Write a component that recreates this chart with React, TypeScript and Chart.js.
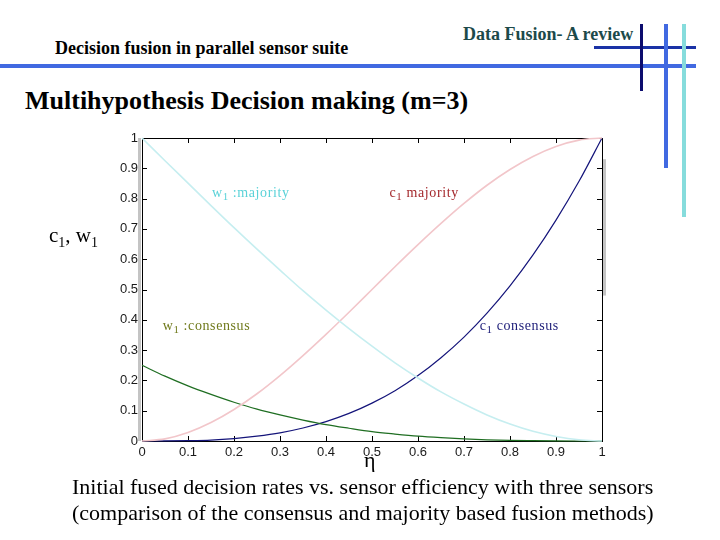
import React, { useEffect, useRef } from "react";
import { Chart, registerables } from "chart.js";

Chart.register(...registerables);

// ---- data ----
const eta = [0, 0.05, 0.1, 0.15, 0.2, 0.25, 0.3, 0.35, 0.4, 0.45, 0.5, 0.55, 0.6, 0.65, 0.7, 0.75, 0.8, 0.85, 0.9, 0.95, 1];
const c1Majority = [0, 0.007, 0.028, 0.061, 0.104, 0.156, 0.216, 0.282, 0.352, 0.425, 0.5, 0.575, 0.648, 0.718, 0.784, 0.844, 0.896, 0.939, 0.972, 0.993, 1];
const c1Consensus = [0, 0.0001, 0.001, 0.003, 0.008, 0.016, 0.027, 0.043, 0.064, 0.091, 0.125, 0.166, 0.216, 0.275, 0.343, 0.422, 0.512, 0.614, 0.729, 0.857, 1];
const w1Majority = [1, 0.925, 0.851, 0.777, 0.704, 0.633, 0.564, 0.496, 0.432, 0.371, 0.313, 0.258, 0.208, 0.162, 0.122, 0.086, 0.056, 0.032, 0.015, 0.004, 0];
const w1Consensus = [0.25, 0.214, 0.182, 0.154, 0.128, 0.105, 0.086, 0.069, 0.054, 0.042, 0.031, 0.023, 0.016, 0.011, 0.007, 0.004, 0.002, 0.001, 0.0003, 0, 0];
const xTickLabels = ["0", "0.1", "0.2", "0.3", "0.4", "0.5", "0.6", "0.7", "0.8", "0.9", "1"];
const yTickLabels = ["0", "0.1", "0.2", "0.3", "0.4", "0.5", "0.6", "0.7", "0.8", "0.9", "1"];

// curve annotations (text, anchored in data units)
const annotations = [
  { main: "w", sub: "1", rest: " :majority", x: 0.152, y: 0.822, color: "#5ad2d8" },
  { main: "c", sub: "1", rest: " majority", x: 0.538, y: 0.822, color: "#a4282c" },
  { main: "w", sub: "1", rest: " :consensus", x: 0.045, y: 0.383, color: "#707a1c" },
  { main: "c", sub: "1", rest: " consensus", x: 0.734, y: 0.383, color: "#1c1c78" },
];

const toXY = (ys: number[]) => eta.map((x, i) => ({ x, y: ys[i] }));

const framePlugin = {
  id: "frame",
  beforeDatasetsDraw(chart: any) {
    const { ctx, chartArea: a, scales } = chart;
    const xs = scales.x;
    const ys = scales.y;
    ctx.save();
    // grey shadow strips beside the frame
    ctx.fillStyle = "#c4c4c4";
    ctx.fillRect(a.left - 4, a.top, 3, a.bottom - a.top);
    const s1 = ys.getPixelForValue(0.93);
    const s2 = ys.getPixelForValue(0.48);
    ctx.fillRect(a.right + 1, s1, 3, s2 - s1);
    // frame
    ctx.strokeStyle = "#000";
    ctx.lineWidth = 1;
    ctx.strokeRect(Math.round(a.left) + 0.5, Math.round(a.top) + 0.5, Math.round(a.right - a.left), Math.round(a.bottom - a.top));
    // inward tick marks on all four sides
    ctx.beginPath();
    xs.ticks.forEach((t: any) => {
      const px = Math.round(xs.getPixelForValue(t.value)) + 0.5;
      ctx.moveTo(px, a.bottom);
      ctx.lineTo(px, a.bottom - 5);
      ctx.moveTo(px, a.top);
      ctx.lineTo(px, a.top + 5);
    });
    ys.ticks.forEach((t: any) => {
      const py = Math.round(ys.getPixelForValue(t.value)) + 0.5;
      ctx.moveTo(a.left, py);
      ctx.lineTo(a.left + 5, py);
      ctx.moveTo(a.right, py);
      ctx.lineTo(a.right - 5, py);
    });
    ctx.stroke();
    ctx.restore();
  },
  afterDatasetsDraw(chart: any) {
    const { ctx, scales } = chart;
    ctx.save();
    ctx.textBaseline = "alphabetic";
    ctx.letterSpacing = "0.6px";
    annotations.forEach((an) => {
      let px = scales.x.getPixelForValue(an.x);
      const base = scales.y.getPixelForValue(an.y) + 5;
      ctx.fillStyle = an.color;
      ctx.font = "14px 'Liberation Serif'";
      ctx.fillText(an.main, px, base);
      px += ctx.measureText(an.main).width;
      ctx.font = "11px 'Liberation Serif'";
      ctx.fillText(an.sub, px, base + 3);
      px += ctx.measureText(an.sub).width;
      ctx.font = "14px 'Liberation Serif'";
      ctx.fillText(an.rest, px, base);
    });
    ctx.restore();
  },
};

function LineChart() {
  const ref = useRef<HTMLCanvasElement | null>(null);
  useEffect(() => {
    if (!ref.current) return;
    const tickFont = { family: "'Liberation Sans', Arial, sans-serif", size: 13 };
    const chart = new Chart(ref.current, {
      type: "line",
      data: {
        datasets: [
          { label: "w1 majority", data: toXY(w1Majority), borderColor: "#c6eef0", borderWidth: 1.6 },
          { label: "c1 majority", data: toXY(c1Majority), borderColor: "#f2c6ca", borderWidth: 1.6 },
          { label: "w1 consensus", data: toXY(w1Consensus), borderColor: "#1f6e22", borderWidth: 1.2 },
          { label: "c1 consensus", data: toXY(c1Consensus), borderColor: "#14147a", borderWidth: 1.2 },
        ].map((d) => ({ ...d, pointRadius: 0, cubicInterpolationMode: "monotone" as const, fill: false, clip: 4 })),
      },
      options: {
        responsive: false,
        animation: false,
        devicePixelRatio: 1,
        layout: { padding: { left: 102, right: 118, top: 138, bottom: 69 } },
        plugins: { legend: { display: false }, tooltip: { enabled: false }, title: { display: false } },
        scales: {
          x: {
            type: "linear",
            min: 0,
            max: 1,
            grid: { display: false, drawTicks: false },
            border: { display: false },
            ticks: {
              stepSize: 0.1,
              autoSkip: false,
              maxRotation: 0,
              padding: 4,
              color: "#1a1a1a",
              font: tickFont,
              callback: (_v: any, i: number) => xTickLabels[i],
            },
            afterFit: (s: any) => {
              s.height = 30;
            },
          },
          y: {
            type: "linear",
            min: 0,
            max: 1,
            grid: { display: false, drawTicks: false },
            border: { display: false },
            ticks: {
              stepSize: 0.1,
              autoSkip: false,
              padding: 4,
              color: "#1a1a1a",
              font: tickFont,
              callback: (_v: any, i: number) => yTickLabels[i],
            },
            afterFit: (s: any) => {
              s.width = 40;
            },
          },
        },
      },
      plugins: [framePlugin],
    });
    return () => chart.destroy();
  }, []);
  return <canvas ref={ref} width={720} height={540} style={{ position: "absolute", left: 0, top: 0 }} />;
}

const serif = "'Liberation Serif', 'Times New Roman', serif";

function Bar(props: { l: number; t: number; w: number; h: number; c: string }) {
  return <div style={{ position: "absolute", left: props.l, top: props.t, width: props.w, height: props.h, background: props.c }} />;
}

export default function App() {
  const txt = (extra: React.CSSProperties): React.CSSProperties => ({
    position: "absolute",
    fontFamily: serif,
    lineHeight: 1,
    whiteSpace: "nowrap",
    color: "#000",
    ...extra,
  });
  return (
    <div style={{ position: "fixed", left: 0, top: 0, width: 720, height: 540, background: "#fff", overflow: "hidden" }}>
      {/* decorative slide lines */}
      <Bar l={0} t={64} w={696} h={4} c="#4169e1" />
      <Bar l={594} t={46} w={102} h={3} c="#1a32a6" />
      <Bar l={640} t={24} w={3} h={67} c="#0c0c6e" />
      <Bar l={664} t={24} w={4} h={144} c="#4169e1" />
      <Bar l={682} t={24} w={4} h={193} c="#86dcdc" />

      <div style={txt({ left: 55, top: 39, fontSize: 18, fontWeight: "bold" })}>Decision fusion in parallel sensor suite</div>
      <div style={txt({ left: 463, top: 25, fontSize: 18, fontWeight: "bold", color: "#1c4a4a" })}>Data Fusion- A review</div>
      <div style={txt({ left: 25, top: 88, fontSize: 26, fontWeight: "bold" })}>Multihypothesis Decision making (m=3)</div>

      <LineChart />

      <div style={txt({ left: 49, top: 225, fontSize: 21 })}>
        c<sub style={{ fontSize: 14 }}>1</sub>, w<sub style={{ fontSize: 14 }}>1</sub>
      </div>
      <div style={txt({ left: 364, top: 449, fontSize: 22 })}>η</div>

      <div style={txt({ left: 72, top: 476, fontSize: 22 })}>Initial fused decision rates vs. sensor efficiency with three sensors</div>
      <div style={txt({ left: 72, top: 502, fontSize: 22 })}>(comparison of the consensus and majority based fusion methods)</div>
    </div>
  );
}
